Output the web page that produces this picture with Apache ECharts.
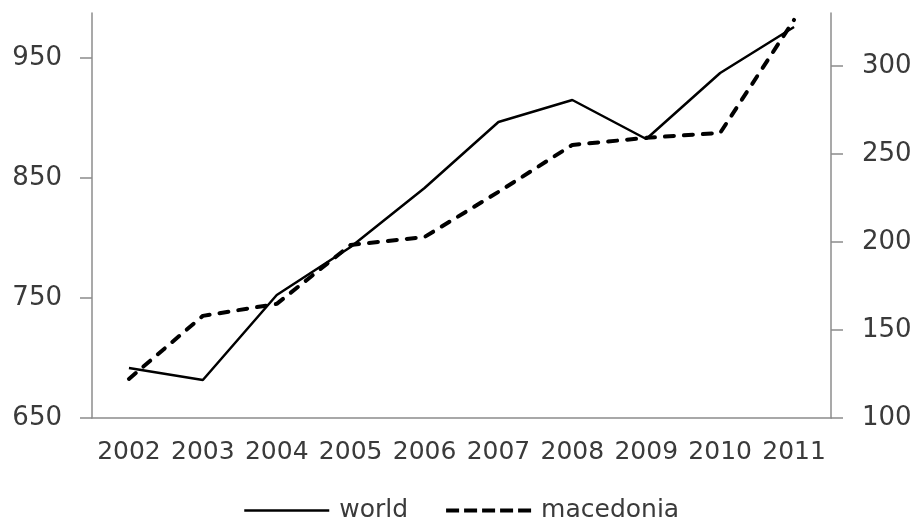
<!DOCTYPE html>
<html>
<head>
<meta charset="utf-8">
<script src="https://cdn.jsdelivr.net/npm/echarts@6/dist/echarts.min.js"></script>
<style>
  html, body { margin: 0; padding: 0; background: #fff; }
  #chart { width: 916px; height: 517px; }
</style>
</head>
<body>
<div id="chart"></div>
<script>
// data
const years = ['2002', '2003', '2004', '2005', '2006', '2007', '2008', '2009', '2010', '2011'];
const world = [691.7, 681.7, 752.5, 792.5, 841.7, 896.7, 915, 882.5, 937.5, 975.8];
const macedonia = [122.2, 158, 164.8, 198.3, 202.8, 228.4, 255.1, 259.1, 261.9, 326.1];
const leftTicks = [650, 750, 850, 950];
const rightTicks = [100, 150, 200, 250, 300];

const axisGrey = '#8c8c8c';
const textGrey = '#3a3a3a';
const font = 'DejaVu Sans';

let chart = echarts.init(document.getElementById('chart'));

let option = {
    animation: false,
    grid: { left: 92, right: 85, top: 13, bottom: 99 },
    legend: {
        left: 238,
        top: 493,
        itemWidth: 85,
        itemHeight: 14,
        itemGap: 36,
        itemStyle: { opacity: 0 },
        textStyle: { fontFamily: font, fontSize: 25, color: textGrey, padding: [0, 0, 0, 5] },
        data: [
            { name: 'world', lineStyle: { color: '#000', width: 2.5 } },
            { name: 'macedonia', lineStyle: { color: '#000', width: 4, type: [13, 5], cap: 'butt' } }
        ]
    },
    xAxis: {
        type: 'category',
        data: years,
        boundaryGap: true,
        axisLine: { lineStyle: { color: axisGrey, width: 1.5 } },
        axisTick: { length: 12, lineStyle: { color: axisGrey, width: 1.5 } },
        axisLabel: { interval: 0, fontFamily: font, fontSize: 25, color: textGrey, margin: 22 }
    },
    yAxis: [{
        type: 'value',
        min: 650,
        max: 987.5,
        splitLine: { show: false },
        axisLine: { show: true, lineStyle: { color: axisGrey, width: 1.5 } },
        axisTick: { show: true, length: 12, customValues: leftTicks, lineStyle: { color: axisGrey, width: 1.5 } },
        axisLabel: { fontFamily: font, fontSize: 26, color: textGrey, margin: 30, customValues: leftTicks }
    }, {
        type: 'value',
        min: 100,
        max: 330,
        position: 'right',
        splitLine: { show: false },
        axisLine: { show: true, lineStyle: { color: axisGrey, width: 1.5 } },
        axisTick: { show: true, length: 12, customValues: rightTicks, lineStyle: { color: axisGrey, width: 1.5 } },
        axisLabel: { fontFamily: font, fontSize: 26, color: textGrey, margin: 31, customValues: rightTicks }
    }],
    series: [{
        name: 'world',
        type: 'line',
        yAxisIndex: 0,
        data: world,
        symbol: 'none',
        color: '#000',
        lineStyle: { color: '#000', width: 2.5 }
    }, {
        name: 'macedonia',
        type: 'line',
        yAxisIndex: 1,
        data: macedonia,
        symbol: 'none',
        color: '#000',
        lineStyle: { color: '#000', width: 4, type: [9, 10], cap: 'round' }
    }]
};

chart.setOption(option);
</script>
</body>
</html>
